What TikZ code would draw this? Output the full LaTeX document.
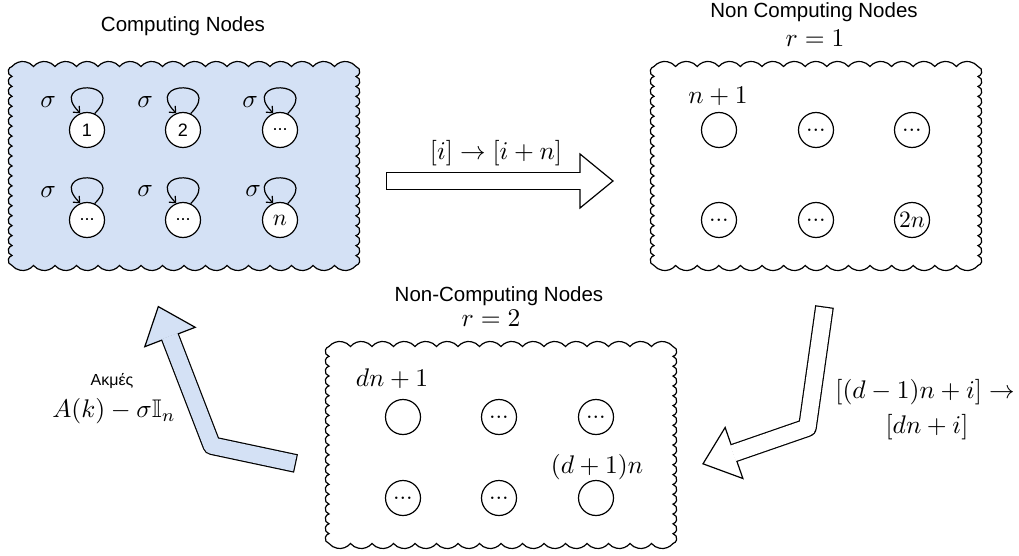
\documentclass[tikz,border=0pt]{standalone}
\usepackage{graphicx}
\usepackage{amssymb}
\usepackage{fontspec}
\newfontfamily\arialfont{Liberation Sans}
\usetikzlibrary{arrows.meta,calc}

\definecolor{boxblue}{HTML}{D4E1F5}

% math set at 10pt and enlarged, so that every size is available
\newcommand{\bigmath}[2][2.55]{\scalebox{#1}{$#2$}}

% Scalloped rectangle: inner corners (#2,#3) top-left and (#4,#5) bottom-right,
% #6 bumps along the horizontal edges, #7 along the vertical ones, #8 path style.
\newcommand{\scallopbox}[8]{%
  \pgfmathsetmacro{\sbrx}{((#4)-(#2))/(#6)/(2*sin(50))}%
  \pgfmathsetmacro{\sbry}{((#3)-(#5))/(#7)/(2*sin(75))}%
  \coordinate (#1) at ($(#2,#3)!0.5!(#4,#5)$);%
  \draw[#8] (#2,#3)
    \foreach \k in {1,...,#6}{ arc[start angle=140, end angle=40, radius=\sbrx] }
    \foreach \k in {1,...,#7}{ arc[start angle=75, end angle=-75, radius=\sbry] }
    \foreach \k in {1,...,#6}{ arc[start angle=-40, end angle=-140, radius=\sbrx] }
    \foreach \k in {1,...,#7}{ arc[start angle=255, end angle=105, radius=\sbry] }
    -- cycle;%
}

% Hollow block arrow: #1 fill, #2 centre line ending at the head base,
% #3 head base, #4 tip.
\newcommand{\blockarrow}[4]{%
  \draw[line width=18.8pt, line join=round] #2;
  \filldraw[fill=#1, line width=1.2pt, line join=miter]
    ($(#3)!27pt!90:(#4)$) -- (#4) -- ($(#3)!27pt!-90:(#4)$) -- cycle;
  \draw[#1, line width=16.4pt, line join=round, shorten <=1.2pt, shorten >=-1pt] #2;
}

\tikzset{
  vertex/.style={circle, draw, fill=white, line width=1.2pt, minimum size=35pt, inner sep=0pt},
  sansv/.style={font=\arialfont\fontsize{18}{20}\selectfont},
  sanslbl/.style={font=\arialfont\fontsize{20.5}{24}\selectfont, inner sep=0pt},
  smallsans/.style={font=\arialfont\fontsize{16}{19}\selectfont, inner sep=0pt},
  mathlbl/.style={inner sep=0pt},
  selfloop/.style={line width=1.2pt, -{Straight Barb[length=5pt, width=9pt]}},
}

\begin{document}
\begin{tikzpicture}[x=1pt, y=1pt]
\useasboundingbox (0,0) rectangle (1019,-556);

% the three groups of nodes
\scallopbox{comp}{12}{-66.5}{356}{-265.5}{16}{20}{fill=boxblue, line width=1.2pt}
\scallopbox{rone}{654}{-66.5}{978}{-265.5}{15}{20}{fill=white, line width=1.2pt}
\scallopbox{rtwo}{329}{-346.5}{673}{-543.5}{16}{20}{fill=white, line width=1.2pt}

% titles
\node[sanslbl] (tcomp) at (183,-26) {Computing Nodes};
\node[sanslbl] (tone) at (814,-12) {Non Computing Nodes};
\node[mathlbl] (rlone) at (815,-38) {\bigmath{r=1}};
\node[sanslbl] (ttwo) at (499,-296) {Non-Computing Nodes};
\node[mathlbl] (rltwo) at (491,-318) {\bigmath{r=2}};

% computing nodes with their self loops
\node[vertex, sansv] (a1) at (87,-130) {1};
\node[vertex, sansv] (a2) at (183,-130) {2};
\node[vertex, sansv] (a3) at (280,-130) {...};
\node[vertex, sansv] (a4) at (87,-220) {...};
\node[vertex, sansv] (a5) at (183,-220) {...};
\node[vertex] (a6) at (280,-220) {\bigmath[2.35]{n}};
\foreach \v in {a1,a2,a3,a4,a5,a6}{
  \draw[selfloop] (\v.65) to[out=45, in=135, distance=48pt] (\v.112);
}
\node[mathlbl] (s1) at (48,-102) {\bigmath{\sigma}};
\node[mathlbl] (s2) at (145,-102) {\bigmath{\sigma}};
\node[mathlbl] (s3) at (250,-102) {\bigmath{\sigma}};
\node[mathlbl] (s4) at (48,-192) {\bigmath{\sigma}};
\node[mathlbl] (s5) at (145,-191) {\bigmath{\sigma}};
\node[mathlbl] (s6) at (253,-191) {\bigmath{\sigma}};

% round r = 1
\node[vertex] (b1) at (719,-130) {};
\node[vertex] (b2) at (816,-130) {\bigmath[2.35]{...}};
\node[vertex] (b3) at (912,-130) {\bigmath[2.35]{...}};
\node[vertex] (b4) at (719,-220) {\bigmath[2.35]{...}};
\node[vertex] (b5) at (816,-220) {\bigmath[2.35]{...}};
\node[vertex] (b6) at (912,-220) {\bigmath[2.35]{2n}};
\node[mathlbl] (lb1) at (718,-96) {\bigmath{n+1}};

% round r = 2
\node[vertex] (c1) at (403,-417) {};
\node[vertex] (c2) at (499,-417) {\bigmath[2.35]{...}};
\node[vertex] (c3) at (596,-417) {\bigmath[2.35]{...}};
\node[vertex] (c4) at (403,-498) {\bigmath[2.35]{...}};
\node[vertex] (c5) at (499,-498) {\bigmath[2.35]{...}};
\node[vertex] (c6) at (596,-498) {};
\node[mathlbl] (lc1) at (392,-379) {\bigmath{dn+1}};
\node[mathlbl] (lc6) at (597,-467) {\bigmath{(d+1)n}};

% arrows between the groups
\coordinate (ra) at (386,-181);
\coordinate (rh) at (580,-181);
\coordinate (rt) at (613,-181);
\blockarrow{white}{(ra) -- (rh)}{rh}{rt}
\node[mathlbl] (lra) at (496,-153.5) {\bigmath{[i]\rightarrow[i+n]}};

\coordinate (da) at (824.5,-306.5);
\coordinate (db) at (807.4,-427.6);
\coordinate (dh) at (734,-453);
\coordinate (dt) at (703,-463.8);
\blockarrow{white}{(da) -- (db) -- (dh)}{dh}{dt}
\node[mathlbl] (lda) at (925,-392) {\bigmath{[(d-1)n+i]\rightarrow}};
\node[mathlbl] (ldb) at (927,-427.5) {\bigmath{[dn+i]}};

\coordinate (ua) at (296,-463.5);
\coordinate (ub) at (211.9,-445.6);
\coordinate (uh) at (170,-337);
\coordinate (ut) at (158.3,-306.6);
\blockarrow{boxblue}{(ua) -- (ub) -- (uh)}{uh}{ut}
\node[smallsans] (lua) at (112,-381) {Ακμές};
\node[mathlbl] (lub) at (114,-411) {\bigmath{A(k)-\sigma\mathbb{I}_n}};
\end{tikzpicture}
\end{document}
